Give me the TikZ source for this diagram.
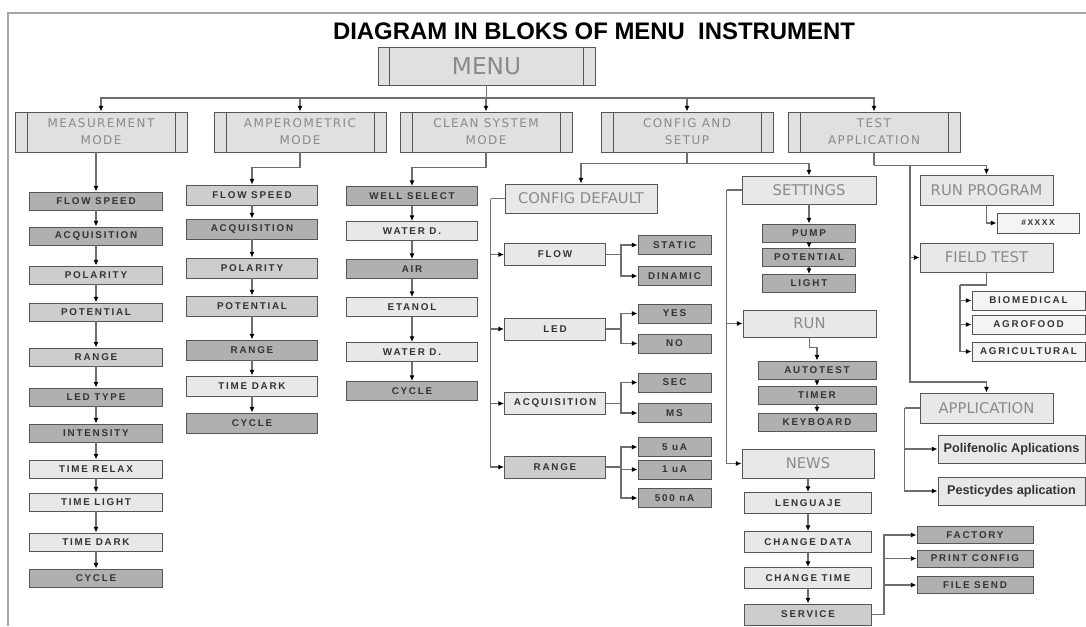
\documentclass[tikz,border=0pt]{standalone}
\usepackage{fontspec}
\setmainfont{Liberation Sans}
\newfontfamily\itemfont[LetterSpace=18]{Liberation Sans}
\newfontfamily\modefont[LetterSpace=12]{DejaVu Sans}
\newfontfamily\bigfont{DejaVu Sans}
\usetikzlibrary{arrows.meta}
\definecolor{boxline}{HTML}{555555}
\definecolor{linegray}{HTML}{6E6E6E}
\definecolor{fillhead}{HTML}{E0E0E0}
\definecolor{filllight}{HTML}{E8E8E8}
\definecolor{fillmid}{HTML}{CDCDCD}
\definecolor{filldark}{HTML}{B0B0B0}
\definecolor{fillwhite}{HTML}{F4F4F4}
\definecolor{txtgray}{HTML}{8A8A8A}
\definecolor{txtdark}{HTML}{333333}

\begin{document}
\begin{tikzpicture}[x=0.025cm, y=-0.025cm,
            box/.style={draw=boxline, line width=0.6pt, inner sep=0pt, align=center},
            bars/.style={path picture={
                \draw[boxline, line width=0.6pt] ([xshift=#1]path picture bounding box.south west) -- ([xshift=#1]path picture bounding box.north west);
                \draw[boxline, line width=0.6pt] ([xshift=-#1]path picture bounding box.south east) -- ([xshift=-#1]path picture bounding box.north east);}},
            menubox/.style={box, bars=0.28cm, fill=fillhead, text=txtgray, minimum width=5.425cm, minimum height=0.95cm,
                font=\bigfont\fontsize{16.5}{18}\selectfont},
            modebox/.style={box, bars=0.3cm, fill=fillhead, text=txtgray, minimum width=4.3cm, minimum height=1cm,
                font=\modefont\fontsize{8.5}{12}\selectfont},
            bigbox/.style={box, fill=filllight, text=txtgray, minimum width=3.325cm, minimum height=0.725cm,
                font=\bigfont\fontsize{10.5}{12}\selectfont},
            item/.style={box, text=txtdark, font=\itemfont\bfseries\fontsize{7}{8}\selectfont},
            fdark/.style={fill=filldark}, fmid/.style={fill=fillmid}, flight/.style={fill=filllight},
            fwhite/.style={fill=fillwhite},
            mcol/.style={item, minimum width=3.325cm, minimum height=0.45cm},
            acol/.style={item, minimum width=3.275cm, minimum height=0.5cm},
            ccol/.style={item, minimum width=3.275cm, minimum height=0.475cm},
            cfg/.style={item, minimum width=2.525cm, minimum height=0.55cm},
            opt/.style={item, minimum width=1.825cm, minimum height=0.475cm},
            scol/.style={item, minimum width=2.325cm, minimum height=0.45cm},
            rcol/.style={item, minimum width=2.95cm, minimum height=0.45cm},
            ncol/.style={item, minimum width=3.175cm, minimum height=0.525cm},
            vcol/.style={item, minimum width=2.9cm, minimum height=0.425cm},
            fcol/.style={item, minimum width=2.825cm, minimum height=0.475cm},
            pcol/.style={box, fill=filllight, text=txtdark, minimum width=3.675cm, minimum height=0.7cm,
                font=\bfseries\fontsize{9}{10}\selectfont},
            conn/.style={draw=linegray, line width=0.8pt},
            arr/.style={conn, -{Latex[length=4pt, width=3.5pt, color=black]}}]

    \useasboundingbox (0,0) rectangle (1086,626);
    \draw[gray!70, line width=1.5pt] (1086,13) -| (8,626);

    \node[font=\bfseries\fontsize{17}{20}\selectfont] (title) at (594,31) {DIAGRAM IN BLOKS OF MENU~~INSTRUMENT};
    \node[menubox] (menu) at (486.5,66) {MENU};

    \node[modebox] (meas)   at (101,132) {MEASUREMENT\\MODE};
    \node[modebox] (amp)    at (300,132) {AMPEROMETRIC\\MODE};
    \node[modebox] (clean)  at (486,132) {CLEAN SYSTEM\\MODE};
    \node[modebox] (config) at (687,132) {CONFIG AND\\SETUP};
    \node[modebox] (test)   at (874,132) {TEST\\APPLICATION};

    \coordinate (bus) at (486.5,98);
    \draw[conn] (menu) -- (bus);
    \foreach \n in {meas,amp,clean,config,test}
        \draw[arr] (bus) -| (\n);

    % measurement mode
    \foreach \t/\y/\f [count=\i] in {FLOW SPEED/201/fdark, ACQUISITION/236/fdark, POLARITY/275/fmid,
            POTENTIAL/312/fmid, RANGE/357/fmid, LED TYPE/397/fdark, INTENSITY/433/fdark,
            TIME RELAX/469/flight, TIME LIGHT/502/flight, TIME DARK/542/flight, CYCLE/578/fdark}
        \node[mcol, \f] (m\i) at (96,\y) {\t};
    \draw[arr] (m1 |- meas.south) -- (m1);
    \foreach \i [count=\j from 2] in {1,...,10}
        \draw[arr] (m\i) -- (m\j);

    % amperometric mode
    \foreach \t/\y/\f [count=\i] in {FLOW SPEED/195/fmid, ACQUISITION/229/fdark, POLARITY/268/fmid,
            POTENTIAL/306/fmid, RANGE/350/fdark, TIME DARK/386/flight, CYCLE/423/fdark}
        \node[acol, \f] (a\i) at (252,\y) {\t};
    \draw[arr] (amp.south) -- ++(0,15) -| (a1);
    \foreach \i [count=\j from 2] in {1,...,6}
        \draw[arr] (a\i) -- (a\j);

    % clean system mode
    \foreach \t/\y/\f [count=\i] in {WELL SELECT/196/fdark, WATER D./231/flight, AIR/269/fdark,
            ETANOL/307/flight, WATER D./352/flight, CYCLE/391/fdark}
        \node[ccol, \f] (c\i) at (412,\y) {\t};
    \draw[arr] (clean.south) -- ++(0,15) -| (c1);
    \foreach \i [count=\j from 2] in {1,...,5}
        \draw[arr] (c\i) -- (c\j);

    % config and setup
    \node[bigbox, minimum width=3.8cm] (cdef) at (581,198.5) {CONFIG DEFAULT};
    \node[bigbox, minimum width=3.35cm, minimum height=0.7cm] (set) at (809,190) {SETTINGS};
    \draw[arr] (config.south) -- ++(0,11) -| (cdef);
    \draw[arr] (config.south) -- ++(0,11) -| (set);

    \foreach \t/\y/\f [count=\i] in {FLOW/254.5/flight, LED/329/flight, ACQUISITION/403.5/flight, RANGE/467/fmid}
        \node[cfg, \f] (cf\i) at (555,\y) {\t};
    \draw[conn] (cdef.west) -- ++(-14,0) coordinate (cv);
    \foreach \i in {1,...,4}
        \draw[arr] (cv) |- (cf\i);

    \foreach \t/\y [count=\i] in {STATIC/245, DINAMIC/276, YES/313.5, NO/343.5, SEC/382.5,
            MS/413, 5 uA/447, 1 uA/469.5, 500 nA/498}
        \node[opt, fdark] (o\i) at (674.5,\y) {\t};
    \foreach \a/\b in {cf1/o1, cf1/o2, cf2/o3, cf2/o4, cf3/o5, cf3/o6, cf4/o7, cf4/o8, cf4/o9}
        \draw[arr] (\a.east) -- ++(15,0) |- (\b);

    \foreach \t/\y [count=\i] in {PUMP/233, POTENTIAL/257.5, LIGHT/283.5}
        \node[scol, fdark] (s\i) at (809,\y) {\t};
    \draw[arr] (set) -- (s1);
    \draw[arr] (s1) -- (s2);
    \draw[arr] (s2) -- (s3);

    \node[bigbox, minimum height=0.675cm] (run) at (809.5,323.5) {RUN};
    \node[bigbox, minimum width=3.3cm] (news) at (808,463.5) {NEWS};
    \draw[conn] (set.west) -- ++(-15,0) coordinate (sv);
    \draw[arr] (sv) |- (run);
    \draw[arr] (sv) |- (news);

    \foreach \t/\y [count=\i] in {AUTOTEST/370, TIMER/395.5, KEYBOARD/422}
        \node[rcol, fdark] (r\i) at (817,\y) {\t};
    \draw[arr] (run.south) -- ++(0,10) -| (r1);
    \draw[arr] (r1) -- (r2);
    \draw[arr] (r2) -- (r3);

    \foreach \t/\y/\f [count=\i] in {LENGUAJE/503/flight, CHANGE DATA/542/flight,
            CHANGE TIME/578/flight, SERVICE/614.5/fmid}
        \node[ncol, \f] (n\i) at (808,\y) {\t};
    \draw[arr] (news) -- (n1);
    \foreach \i [count=\j from 2] in {1,...,3}
        \draw[arr] (n\i) -- (n\j);

    \foreach \t/\y [count=\i] in {FACTORY/535, PRINT CONFIG/558.5, FILE SEND/585}
        \node[vcol, fdark] (v\i) at (975,\y) {\t};
    \foreach \i in {1,...,3}
        \draw[arr] (n4.east) -- ++(12,0) |- (v\i);

    % test application
    \node[bigbox, minimum height=0.75cm] (rprog) at (986.5,190) {RUN PROGRAM};
    \node[bigbox] (ftest) at (986.5,257.5) {FIELD TEST};
    \node[bigbox, minimum height=0.75cm] (app) at (986.5,408) {APPLICATION};
    \node[item, fwhite, minimum width=2.05cm, minimum height=0.5cm,
        font=\itemfont\bfseries\fontsize{6}{7}\selectfont] (xx) at (1038,223) {\#XXXX};

    \draw[conn] (test.south) -- ++(0,13) coordinate (tj);
    \coordinate (tv) at (910,382);
    \draw[arr] (tj) -| (rprog);
    \draw[arr] (tj) -| (tv) -| (app);
    \draw[arr] (tv |- ftest) -- (ftest);
    \draw[arr] (rprog.south) |- (xx);

    \foreach \t/\y [count=\i] in {BIOMEDICAL/300.5, AGROFOOD/324.5, AGRICULTURAL/351.5}
        \node[fcol, fwhite] (f\i) at (1028.5,\y) {\t};
    \coordinate (fj) at (960,285);
    \draw[conn] (ftest.south) |- (fj);
    \foreach \i in {1,...,3}
        \draw[arr] (fj) |- (f\i);

    \node[pcol] (p1) at (1011.5,449) {Polifenolic Aplications};
    \node[pcol] (p2) at (1011.5,491) {Pesticydes aplication};
    \draw[conn] (app.west) -- ++(-15,0) coordinate (aj);
    \draw[arr] (aj) |- (p1);
    \draw[arr] (aj) |- (p2);

\end{tikzpicture}
\end{document}
